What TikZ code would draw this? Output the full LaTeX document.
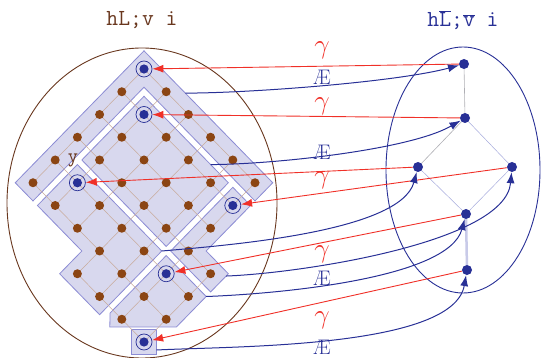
\documentclass[tikz,border=0pt]{standalone}
\usepackage{tikz}
\usetikzlibrary{arrows.meta}
\definecolor{latbrown}{RGB}{139,69,19}
\definecolor{ringbrown}{RGB}{105,55,30}
\definecolor{quotblue}{RGB}{40,48,150}
\definecolor{classfill}{RGB}{216,216,238}
\definecolor{classedge}{RGB}{140,140,212}
\definecolor{latgrid}{RGB}{200,170,155}
\definecolor{gammared}{RGB}{240,48,40}
\definecolor{edgeblue}{RGB}{165,170,220}
\definecolor{edgegray}{RGB}{175,175,180}
\definecolor{edgelav}{RGB}{200,202,232}

\begin{document}
\begin{tikzpicture}[x=1pt, y=-1pt, font=\fontsize{19}{21}\selectfont,
    latdot/.style={circle, fill=latbrown, inner sep=0pt, minimum size=9pt},
    topdot/.style={circle, draw=quotblue, line width=0.7pt, inner sep=0pt, minimum size=16pt,
        path picture={\fill[quotblue] (path picture bounding box.center) circle (4.6pt);}},
    qdot/.style={circle, fill=quotblue, inner sep=0pt, minimum size=10pt},
    classbox/.style={fill=classfill, draw=classedge, line width=0.8pt},
    latline/.style={latgrid, line width=0.5pt},
    gammaline/.style={gammared, line width=0.9pt, -{Latex[length=11pt,width=8pt]}},
    alphaline/.style={quotblue, line width=1pt, -{Latex[length=11pt,width=8pt]}, looseness=.6},
    gammalbl/.style={text=gammared, inner sep=0pt, font=\fontsize{24.88}{28}\selectfont, scale=1.1},
    alphalbl/.style={text=quotblue, inner sep=0pt, font=\fontsize{21}{23}\selectfont},
    headlbl/.style={font=\ttfamily\fontsize{23}{25}\selectfont}]
    \useasboundingbox (0,0) rectangle (541,358);

    % the two orders
    \draw[ringbrown, line width=0.9pt] (142,203) ellipse (135pt and 155pt);
    \draw[quotblue, line width=0.9pt] (463,170) ellipse (77pt and 123pt);
    \node[headlbl, text=ringbrown] (lhead) at (142,20) {hL;v i};
    \node[headlbl, text=quotblue] (rhead) at (463,20) {h$\overline{\hbox{L}}$;$\overline{\hbox{v}}$ i};

    % lattice L, drawn in its own (i,j) grid
    \begin{scope}[shift={(144,69)}, x={(22.2pt,-22.75pt)}, y={(-22.2pt,-22.75pt)}]
        \path[classbox] (-.4,-.4) -- (5.4,-.4) -- (5.4,.4) -- (.4,.4) -- (.4,5.4) -- (-.4,5.4) -- cycle;
        \path[classbox] (.6,.6) -- (4.4,.6) -- (4.4,3.4) -- (.6,3.4) -- cycle;
        \path[classbox] (.6,3.6) -- (4.4,3.6) -- (4.4,6.4) -- (2.6,6.4) -- (2.6,5.4) -- (.6,5.4) -- cycle;
        \path[classbox] (4.6,.6) -- (5.4,.6) -- (5.4,2.6) -- (6.4,2.6) -- (6.4,3.4) -- (4.6,3.4) -- cycle;
        \path[classbox] (4.6,3.6) -- (6.4,3.6) -- (6.4,4.94) -- (4.9,6.44) -- (4.6,6.13) -- cycle;
        \path[classbox] ([shift={(-12.5pt,12.5pt)}]6,6) rectangle ([shift={(12.5pt,-12.5pt)}]6,6);

        \foreach \k/\a/\b in {0/0/5,1/0/5,2/0/5,3/0/6,4/0/6,5/0/6,6/3/6}{
            \draw[latline] (\a,\k) -- (\b,\k);
            \draw[latline] (\k,\a) -- (\k,\b);
        }
        \foreach \i/\a/\b in {0/0/5,1/0/5,2/0/5,3/0/6,4/0/6,5/0/6,6/3/6}
            \foreach \j in {\a,...,\b}{
                \pgfmathtruncatemacro\isblue{(\i==0&&\j==0)||(\i==1&&\j==1)||(\i==4&&\j==1)||(\i==1&&\j==5)||(\i==4&&\j==5)||(\i==6&&\j==6)}
                \ifnum\isblue=0 \node[latdot] (p\i\j) at (\j,\i) {};\fi
            }
        \foreach \i/\j in {0/0,1/1,4/1,1/5,4/5,6/6}
            \node[topdot] (p\i\j) at (\j,\i) {};

        \coordinate (sA) at (1.46,-.4);
        \coordinate (sB) at (3.6,.6);
        \coordinate (sC) at (4.4,3.6);
        \coordinate (sD) at (6.4,2.7);
        \coordinate (sE) at (6.4,3.6);
        \coordinate (sF) at ([shift={(12.5pt,-8pt)}]6,6);
    \end{scope}
    \node[text=ringbrown, font=\ttfamily\fontsize{20}{22}\selectfont] (ylbl) at (73,160) {y};

    % quotient
    \node[qdot] (rA) at (464,64) {};
    \node[qdot] (rB) at (465,118) {};
    \node[qdot] (rC) at (418,167) {};
    \node[qdot] (rD) at (512,167) {};
    \node[qdot] (rE) at (466,214) {};
    \node[qdot] (rF) at (467,270) {};
    \draw[edgegray, line width=.6pt] (rA) -- (rB) -- (rC);
    \draw[edgeblue, line width=.5pt] (rB) -- (rD) -- (rE) -- (rC);
    \draw[edgelav, line width=2.5pt] (rE) -- (rF);

    % gamma and alpha
    \foreach \r/\p in {rA/p00, rB/p11, rC/p41, rD/p15, rE/p45, rF/p66}
        \draw[gammaline] (\r) -- (\p);
    \draw[alphaline] (sA) to[out=0, in=195] (rA);
    \draw[alphaline] (sB) to[out=0, in=210] (rB);
    \draw[alphaline] (sC) to[out=5, in=-105] (rC);
    \draw[alphaline] (sD) to[out=2, in=-95] (rD);
    \draw[alphaline] (sE) to[out=2, in=-105] (rE);
    \draw[alphaline] (sF) to[out=3, in=-100] (rF);

    \foreach \n/\y in {1/50,2/106,3/180,4/254,5/320}
        \node[gammalbl] (g\n) at (322,\y) {$\gamma$};
    \foreach \n/\y in {1/77,2/152,3/278,4/347}
        \node[alphalbl] (a\n) at (322,\y) {\AE};
\end{tikzpicture}
\end{document}
